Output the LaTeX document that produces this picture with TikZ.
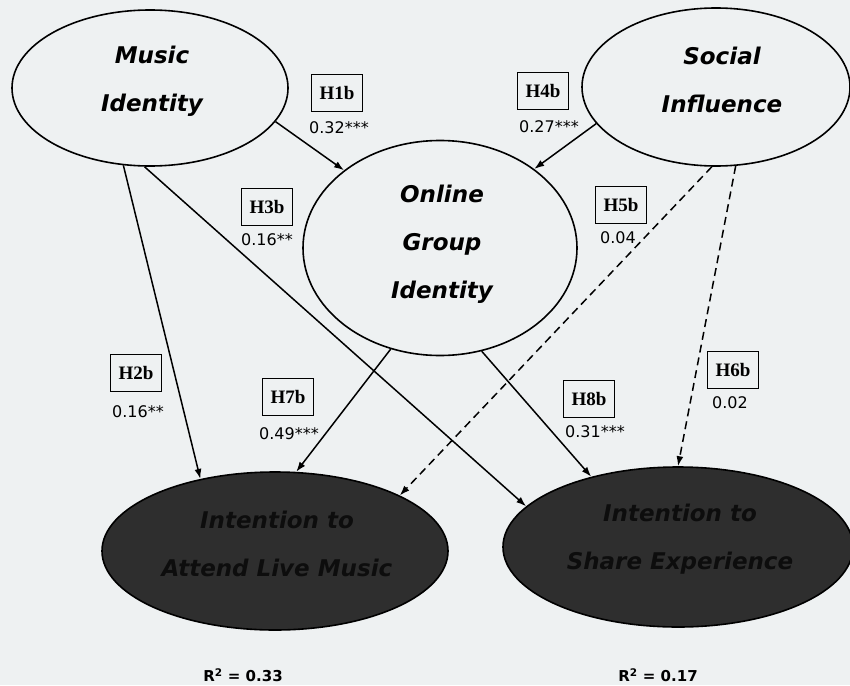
\documentclass[tikz,border=0pt]{standalone}
\usepackage{fontspec}
\usetikzlibrary{shapes.geometric,arrows.meta}
\newfontfamily\ellfont{DejaVu Sans}
\newfontfamily\valfont{DejaVu Sans}
\newfontfamily\hypfont{Liberation Serif}
\definecolor{paper}{HTML}{EEF1F2}
\definecolor{darkfill}{HTML}{2E2E2E}
\begin{document}
\begin{tikzpicture}[x=1pt,y=-1pt,
  latent/.style={ellipse,draw=black,line width=1.6pt,inner sep=0pt},
  lightvar/.style={latent,fill=paper},
  darkvar/.style={latent,fill=darkfill},
  elltext/.style={align=center,font={\ellfont\bfseries\itshape\fontsize{23}{48}\selectfont}},
  darktext/.style={elltext,text=black!95},
  hypbox/.style={draw=black,line width=1.4pt,minimum width=51pt,minimum height=37pt,inner sep=0pt,
    font={\hypfont\bfseries\fontsize{19}{19}\selectfont}},
  coef/.style={font={\valfont\fontsize{16}{16}\selectfont}},
  rsq/.style={font={\valfont\bfseries\fontsize{15}{15}\selectfont}},
  path/.style={line width=1.5pt,-{Latex[length=10pt,width=7pt]}},
  nonsig/.style={path,dash pattern=on 8pt off 5pt}
]
% page
\fill[paper] (0,0) rectangle (850,685);
\useasboundingbox (0,0) rectangle (850,685);

% latent constructs
\node[lightvar,minimum width=276pt,minimum height=156pt] (mi)  at (150,88)  {};
\node[lightvar,minimum width=268pt,minimum height=158pt] (si)  at (716,87)  {};
\node[lightvar,minimum width=274pt,minimum height=215pt] (ogi) at (440,248) {};
\node[darkvar,minimum width=346pt,minimum height=158pt]  (att) at (275,551) {};
\node[darkvar,minimum width=350pt,minimum height=160pt]  (sha) at (678,547) {};

\node[elltext]  (mi-t)  at (152,81)  {Music\\Identity};
\node[elltext]  (si-t)  at (722,80)  {Social\\Influence};
\node[elltext]  (ogi-t) at (442,244) {Online\\Group\\Identity};
\node[darktext] (att-t) at (277,544) {Intention to\\Attend Live Music};
\node[darktext] (sha-t) at (680,539) {Intention to\\Share Experience};

% structural paths
\draw[path]   (mi.-15)  -- (ogi.141);
\draw[path]   (si.-163) -- (ogi.40);
\draw[path]   (mi.-109) -- (att.136);
\draw[path]   (mi.-94)  -- (sha.165);
\draw[path]   (ogi.-116) -- (att.75);
\draw[path]   (ogi.-68) -- (sha.141);
\draw[nonsig] (si.-93)  -- (att.24);
\draw[nonsig] (si.-76)  -- (sha.90);

% hypotheses and path coefficients
\node[hypbox] (h1b) at (337,93)  {H1b};
\node[coef]   (h1b-v) at (339,128) {0.32***};
\node[hypbox] (h4b) at (543,91)  {H4b};
\node[coef]   (h4b-v) at (549,127) {0.27***};
\node[hypbox] (h3b) at (267,207) {H3b};
\node[coef]   (h3b-v) at (267,240) {0.16**};
\node[hypbox] (h5b) at (621,205) {H5b};
\node[coef]   (h5b-v) at (618,238) {0.04};
\node[hypbox] (h2b) at (136,373) {H2b};
\node[coef]   (h2b-v) at (138,412) {0.16**};
\node[hypbox] (h7b) at (288,397) {H7b};
\node[coef]   (h7b-v) at (289,434) {0.49***};
\node[hypbox] (h8b) at (589,399) {H8b};
\node[coef]   (h8b-v) at (595,432) {0.31***};
\node[hypbox] (h6b) at (733,370) {H6b};
\node[coef]   (h6b-v) at (730,403) {0.02};

% explained variance
\node[rsq] (att-r2) at (243,675) {R\textsuperscript{2} = 0.33};
\node[rsq] (sha-r2) at (658,675) {R\textsuperscript{2} = 0.17};
\end{tikzpicture}
\end{document}
